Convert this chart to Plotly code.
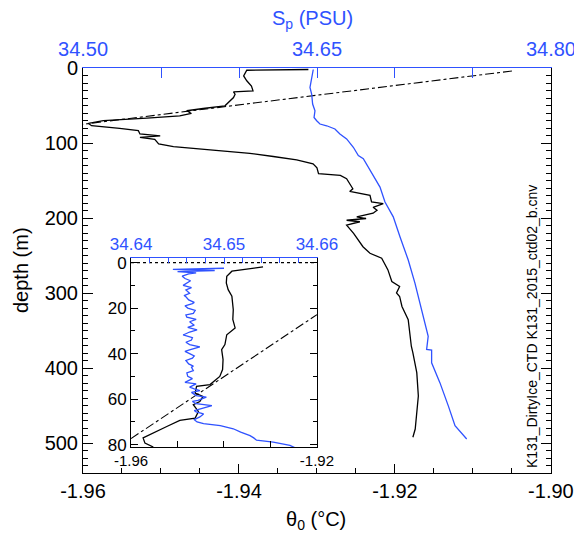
import plotly.graph_objects as go

# ---- full-depth profile ----
# potential temperature theta_0 (deg C) against depth (m)
theta_depth = [2, 3, 10.6, 17, 24, 30.5, 31.8, 35, 39.4, 46, 50.4, 54, 57, 60.6, 63.7,
               66.7, 70.3, 73.9, 76.9, 80.5, 83.6, 88, 90.6, 92.4, 95.1, 101.2, 104.8,
               109.2, 113.7, 118, 122.4, 127.7, 133, 141, 143.2, 147.6, 154, 161, 164.5,
               167.5, 169.8, 178.6, 180.8, 185.7, 189.7, 193.6, 198.5, 200.7, 203, 205,
               209.5, 220.6, 238.3, 247, 253.7, 269.2, 284.7, 291.4, 300, 304.6, 318,
               335.5, 353.2, 371, 379.7, 406.2, 437.3, 463.8, 481.4, 492.4]
theta_vals = [-1.9311, -1.9390, -1.9394, -1.9390, -1.9384, -1.9382, -1.9407, -1.9405,
              -1.9407, -1.9414, -1.9418, -1.9446, -1.9467, -1.9461, -1.9476, -1.9518,
              -1.9574, -1.9593, -1.9589, -1.9553, -1.9529, -1.9527, -1.9501, -1.9527,
              -1.9508, -1.9503, -1.9484, -1.9437, -1.9386, -1.9356, -1.9326, -1.9305,
              -1.9300, -1.9298, -1.9270, -1.9262, -1.9258, -1.9254, -1.9258, -1.9245,
              -1.9232, -1.9230, -1.9215, -1.9228, -1.9223, -1.9228, -1.9249, -1.9237,
              -1.9262, -1.9245, -1.9262, -1.9253, -1.9241, -1.9232, -1.9217, -1.9209,
              -1.9204, -1.9194, -1.9198, -1.9194, -1.9191, -1.9183, -1.9181, -1.9179,
              -1.9177, -1.9172, -1.9170, -1.9172, -1.9174, -1.9177]

# practical salinity S_p (PSU) against depth (m)
sal_depth = [2, 12.9, 26, 35, 48, 57, 66, 70.3, 74.7, 77, 81.3, 88, 94.6, 105.7, 116.7,
             121, 136.6, 158.8, 178.6, 198.5, 225, 256, 286.9, 322.3, 357.7, 375.3,
             376, 393, 419.5, 450.5, 477, 494.7]
sal_vals = [34.6476, 34.6466, 34.6455, 34.6466, 34.6472, 34.6487, 34.6481, 34.6498,
            34.6519, 34.6562, 34.6615, 34.6647, 34.6690, 34.6733, 34.6765, 34.6797,
            34.6840, 34.6904, 34.6936, 34.6989, 34.7032, 34.7085, 34.7128, 34.7171,
            34.7213, 34.7203, 34.7235, 34.7235, 34.7288, 34.7342, 34.7385, 34.7460]

# surface freezing temperature line (deg C) against depth (m)
fz_depth = [4, 75]
fz_theta = [-1.9050, -1.9600]

# ---- upper 80 m detail ----
in_theta_depth = [1.9, 2.6, 3.2, 3.8, 6.0, 9, 11.9, 14.8, 20.7, 25, 28.7, 31.7, 36, 38.2,
                  42.6, 47, 50, 53.6, 54.4, 57.3, 58.8, 61, 62.4, 65.4, 68.3, 69.3, 72,
                  74.9, 77, 79.3, 81]
in_theta_vals = [-1.9316, -1.9345, -1.9370, -1.9383, -1.9394, -1.9395, -1.9391, -1.9383,
                 -1.9380, -1.9381, -1.9376, -1.9394, -1.9398, -1.9405, -1.9402, -1.9403,
                 -1.9409, -1.9430, -1.9459, -1.9462, -1.9445, -1.9452, -1.9466, -1.9455,
                 -1.9462, -1.9495, -1.9523, -1.9552, -1.9574, -1.9570, -1.9552]

in_sal_depth = [2.5, 3.0, 3.5, 4.0, 4.5, 5, 6, 7, 8, 9, 10, 11, 12, 13.5, 14.5, 15,
                16.4, 17.5, 18, 19, 20, 21, 22.3, 23, 24, 25, 26, 27.5, 28.5, 29.6,
                30.5, 31.8, 33, 34, 35, 36, 37, 38.5, 39, 40, 41, 42, 43, 44.5, 45.5,
                46, 47.5, 48.5, 50, 51, 52.6, 53.3, 54.7, 55.5, 56.2, 57, 58.4, 59.1,
                60.5, 61, 62, 62.8, 64, 65, 65.6, 66.5, 67.8, 69, 70, 70.7, 71.6, 73,
                74.5, 76, 77, 78, 78.9, 80.3, 82]
in_sal_vals = [34.6500, 34.6445, 34.6490, 34.6450, 34.6470, 34.6462, 34.6455, 34.6458,
               34.6464, 34.6460, 34.6456, 34.6465, 34.6459, 34.6463, 34.6457, 34.6459,
               34.6462, 34.6468, 34.6466, 34.6458, 34.6461, 34.6469, 34.6467, 34.6459,
               34.6460, 34.6470, 34.6463, 34.6468, 34.6461, 34.6471, 34.6463, 34.6456,
               34.6466, 34.6465, 34.6459, 34.6463, 34.6474, 34.6462, 34.6458, 34.6463,
               34.6468, 34.6466, 34.6459, 34.6462, 34.6467, 34.6465, 34.6467, 34.6460,
               34.6461, 34.6466, 34.6458, 34.6470, 34.6463, 34.6468, 34.6474, 34.6465,
               34.6470, 34.6481, 34.6472, 34.6466, 34.6470, 34.6487, 34.6475, 34.6468,
               34.6470, 34.6478, 34.6474, 34.6468, 34.6471, 34.6478, 34.6496, 34.6510,
               34.6518, 34.6528, 34.6532, 34.6535, 34.6553, 34.6571, 34.6580]

in_fz_depth = [77.3, 22.9]
in_fz_theta = [-1.9600, -1.9200]

surface_depth = [0, 0]
surface_theta = [-1.9600, -1.9200]

# tick labels
main_t_ticks = [-1.96, -1.94, -1.92, -1.90]
main_t_text = ["-1.96", "-1.94", "-1.92", "-1.90"]
main_s_ticks = [34.50, 34.65, 34.80]
main_s_text = ["34.50", "34.65", "34.80"]
in_t_ticks = [-1.96, -1.95, -1.94, -1.93, -1.92]
in_t_text = ["-1.96", "", "", "", "-1.92"]
in_s_ticks = [34.64, 34.65, 34.66]
in_s_text = ["34.64", "34.65", "34.66"]

BLUE = "#2f52ff"
FONT = "Liberation Sans, Arial, Helvetica, sans-serif"
W, H = 574, 537


def fx(p):
    return p / W


def fy(p):
    return 1 - p / H


fig = go.Figure()

fig.add_trace(go.Scatter(x=theta_vals, y=theta_depth, xaxis="x", yaxis="y",
                         mode="lines", line=dict(color="black", width=1.3)))
fig.add_trace(go.Scatter(x=sal_vals, y=sal_depth, xaxis="x2", yaxis="y",
                         mode="lines", line=dict(color=BLUE, width=1.3)))
fig.add_trace(go.Scatter(x=fz_theta, y=fz_depth, xaxis="x", yaxis="y",
                         mode="lines", line=dict(color="black", width=1.1, dash="dashdot")))

fig.add_trace(go.Scatter(x=surface_theta, y=surface_depth, xaxis="x3", yaxis="y2",
                         mode="lines", line=dict(color="black", width=1.3, dash="dot")))
fig.add_trace(go.Scatter(x=in_fz_theta, y=in_fz_depth, xaxis="x3", yaxis="y2",
                         mode="lines", line=dict(color="black", width=1.1, dash="dashdot")))
fig.add_trace(go.Scatter(x=in_sal_vals, y=in_sal_depth, xaxis="x4", yaxis="y2",
                         mode="lines", line=dict(color=BLUE, width=1.3)))
fig.add_trace(go.Scatter(x=in_theta_vals, y=in_theta_depth, xaxis="x3", yaxis="y2",
                         mode="lines", line=dict(color="black", width=1.3)))

main_x_dom = [fx(83), fx(551)]
main_y_dom = [fy(473), fy(68)]
in_x_dom = [fx(131), fx(317)]
in_y_dom = [fy(447), fy(258)]

common = dict(showgrid=False, zeroline=False, showline=True, linewidth=1,
              ticks="inside", automargin=False, ticklabeloverflow="allow")

fig.update_layout(
    template="none",
    width=W, height=H,
    margin=dict(l=0, r=0, t=0, b=0, autoexpand=False),
    paper_bgcolor="white", plot_bgcolor="white",
    showlegend=False,
    font=dict(family=FONT, size=20, color="black"),
    xaxis=dict(domain=main_x_dom, range=[-1.96, -1.89999], anchor="y", side="bottom",
               linecolor="black", tickcolor="black", ticklen=9,
               tickmode="array", tickvals=main_t_ticks, ticktext=main_t_text,
               tickfont=dict(size=20, color="black"),
               minor=dict(ticks="inside", tickmode="linear", tick0=-1.96, dtick=0.005,
                          ticklen=5, tickcolor="black"),
               **common),
    xaxis2=dict(domain=main_x_dom, range=[34.49995, 34.80005], anchor="y", side="top",
                overlaying="x", linecolor=BLUE, tickcolor=BLUE, ticklen=10,
                tickmode="array", tickvals=main_s_ticks, ticktext=main_s_text,
                tickfont=dict(size=20, color=BLUE), ticklabelstandoff=3,
                minor=dict(ticks="inside", tickmode="linear", tick0=34.50, dtick=0.05,
                           ticklen=10, tickcolor=BLUE),
                **common),
    yaxis=dict(domain=main_y_dom, range=[540, 0], anchor="x", mirror="ticks",
               linecolor="black", tickcolor="black", ticklen=10,
               tickmode="linear", tick0=0, dtick=100,
               tickfont=dict(size=20, color="black"),
               minor=dict(ticks="inside", tickmode="linear", tick0=0, dtick=10,
                          ticklen=5, tickcolor="black"),
               **common),
    xaxis3=dict(domain=in_x_dom, range=[-1.96, -1.91999], anchor="y2", side="bottom",
                linecolor="black", tickcolor="black", ticklen=6,
                tickmode="array", tickvals=in_t_ticks, ticktext=in_t_text,
                tickfont=dict(size=15, color="black"),
                **common),
    xaxis4=dict(domain=in_x_dom, range=[34.63999, 34.66001], anchor="y2", side="top",
                overlaying="x3", linecolor=BLUE, tickcolor=BLUE, ticklen=6,
                tickmode="array", tickvals=in_s_ticks, ticktext=in_s_text,
                tickfont=dict(size=17, color=BLUE),
                minor=dict(ticks="inside", tickmode="linear", tick0=34.64, dtick=0.002,
                           ticklen=5, tickcolor=BLUE),
                **common),
    yaxis2=dict(domain=in_y_dom, range=[81, -2], anchor="x3", mirror="ticks",
                linecolor="black", tickcolor="black", ticklen=7,
                tickmode="linear", tick0=0, dtick=20,
                tickfont=dict(size=17, color="black"),
                minor=dict(ticks="inside", tickmode="linear", tick0=0, dtick=10,
                           ticklen=4, tickcolor="black"),
                **common),
)

annotations = [
    dict(text="S<sub>p</sub> (PSU)", x=fx(312), y=fy(19), font=dict(size=20, color=BLUE)),
    dict(text="depth (m)", x=fx(21), y=fy(270), textangle=-90, font=dict(size=20)),
    dict(text="θ<sub>0</sub> (°C)", x=fx(316), y=fy(520), font=dict(size=20)),
    dict(text="K131_DirtyIce_CTD K131_2015_ctd02_b.cnv", x=fx(532), y=fy(327),
         textangle=-90, font=dict(size=14)),
]
for a in annotations:
    fig.add_annotation(xref="paper", yref="paper", showarrow=False,
                       xanchor="center", yanchor="middle", **a)

fig.write_html("out.html")
